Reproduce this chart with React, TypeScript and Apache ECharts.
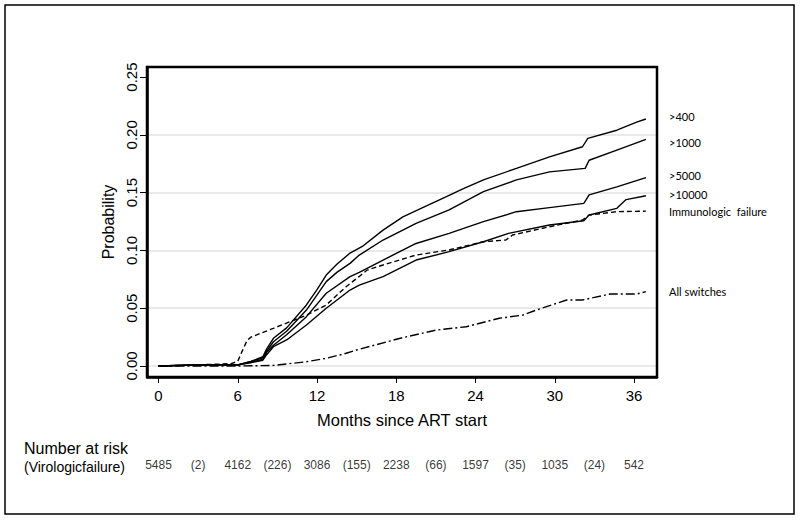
import React, { useEffect, useRef } from "react";
import * as echarts from "echarts";

// Axis ticks
const xTicks = [0, 6, 12, 18, 24, 30, 36];
const yTicks = [0, 0.05, 0.1, 0.15, 0.2, 0.25];
const gridValues = [0, 0.05, 0.1, 0.15, 0.2];

// Cumulative probability curves [month, probability]
const vl400: [number, number][] = [
  [0, 0], [3, 0.001], [6, 0.001], [7, 0.004], [7.9, 0.008], [8.2, 0.015], [8.7, 0.024], [9.7, 0.033],
  [11.2, 0.0528], [12.0, 0.066], [12.7, 0.0787], [13.5, 0.088], [14.5, 0.0977], [15.5, 0.104], [17, 0.1176],
  [18.5, 0.129], [20, 0.137], [21.8, 0.1465], [23, 0.153], [24.6, 0.161], [27.1, 0.171], [29.6, 0.181],
  [32.1, 0.1897], [32.5, 0.197], [34.7, 0.204], [36.2, 0.211], [36.9, 0.2137],
];
const vl1000: [number, number][] = [
  [0, 0], [3, 0.001], [6, 0.001], [7, 0.004], [7.9, 0.007], [8.2, 0.013], [8.7, 0.021], [9.7, 0.03],
  [11.2, 0.0484], [12.7, 0.073], [13.5, 0.081], [14.5, 0.0888], [15.2, 0.096], [17, 0.109], [19.5, 0.1234],
  [22, 0.135], [24.6, 0.1508], [27.1, 0.161], [29.6, 0.168], [32.3, 0.171], [32.6, 0.178], [34.7, 0.1868],
  [36.9, 0.196],
];
const vl5000: [number, number][] = [
  [0, 0], [3, 0.001], [6, 0.001], [7, 0.003], [7.9, 0.006], [8.2, 0.012], [8.7, 0.018], [9.7, 0.027],
  [11.2, 0.0427], [12.7, 0.0629], [14.5, 0.0773], [15.2, 0.081], [17, 0.0917], [19.5, 0.106], [22, 0.1148],
  [24.6, 0.1249], [27.1, 0.1335], [29.6, 0.137], [32.2, 0.1407], [32.6, 0.148], [34.7, 0.155], [36.9, 0.163],
];
const vl10000: [number, number][] = [
  [0, 0], [3, 0.001], [6, 0.001], [7, 0.003], [7.9, 0.005], [8.2, 0.01], [8.7, 0.0167], [9.7, 0.0225],
  [11.2, 0.0355], [12.7, 0.05], [14.5, 0.0657], [15.2, 0.07], [17, 0.0773], [19.5, 0.0917], [22, 0.0989],
  [24.6, 0.1075], [26.5, 0.1148], [29.6, 0.122], [32.2, 0.1257], [32.6, 0.1306], [34.7, 0.1364], [35.4, 0.144],
  [36.9, 0.1473],
];
const immunologic: [number, number][] = [
  [0, 0], [2, 0.0005], [3, 0.001], [5.5, 0.002], [6.0, 0.004], [6.3, 0.012], [6.7, 0.022], [7, 0.025],
  [8.7, 0.0326], [11.2, 0.044], [12.7, 0.0528], [14.2, 0.0686], [15.2, 0.0775], [15.8, 0.083], [17, 0.0874],
  [19.5, 0.096], [22, 0.1004], [24.6, 0.1075], [26.3, 0.109], [26.8, 0.1133], [29.6, 0.1205], [32.1, 0.1263],
  [32.6, 0.1306], [34.7, 0.1335], [36.9, 0.134],
];
const allSwitches: [number, number][] = [
  [0, 0], [6, 0], [8.7, 0.0005], [11.2, 0.0037], [12.7, 0.0066], [14.2, 0.011], [15.2, 0.0145], [18.3, 0.024],
  [21, 0.031], [23.3, 0.034], [25.8, 0.0413], [27.6, 0.0441], [28.6, 0.0484], [30.9, 0.0571], [32.1, 0.0571],
  [34.2, 0.0623], [36.2, 0.0623], [36.9, 0.0643],
];

// Number at risk
const riskMonths = [0, 6, 12, 18, 24, 30, 36];
const riskCounts = [5485, 4162, 3086, 2238, 1597, 1035, 542];
const failMonths = [3, 9, 15, 21, 27, 33];
const failCounts = [2, 226, 155, 66, 35, 24];

const curveLabels = [
  { text: ">400", y: 116 },
  { text: ">1000", y: 142 },
  { text: ">5000", y: 175 },
  { text: ">10000", y: 194 },
  { text: "Immunologic  failure", y: 211 },
  { text: "All switches", y: 291 },
];

const FONT = "'Liberation Sans', Arial, sans-serif";

export default function App() {
  const ref = useRef<HTMLDivElement>(null);
  useEffect(() => {
    if (!ref.current) return;
    const chart = echarts.init(ref.current, undefined, { renderer: "svg" });
    const X_MIN = -0.871;
    const X_MAX = 37.74;
    const Y_MIN = -0.00952;
    const Y_MAX = 0.2587;

    const mkLine = (name: string, data: [number, number][], type: any) => ({
      type: "line",
      name,
      data,
      symbol: "none",
      showSymbol: false,
      clip: false,
      z: 3,
      lineStyle: { color: "#000", width: 1.4, type },
      emphasis: { disabled: true },
    });

    const riskData = [
      ...riskMonths.map((m, i) => ({ value: [m, 0.5], name: String(riskCounts[i]) })),
      ...failMonths.map((m, i) => ({ value: [m, 0.5], name: "(" + failCounts[i] + ")" })),
    ];

    chart.setOption({
      animation: false,
      backgroundColor: "#fff",
      grid: [
        { left: 147, top: 67, width: 510, height: 310, show: false },
        { left: 147, top: 455, width: 510, height: 20, show: false },
      ],
      xAxis: [
        {
          type: "value",
          gridIndex: 0,
          min: X_MIN,
          max: X_MAX,
          name: "Months since ART start",
          nameLocation: "middle",
          nameGap: 34,
          nameTextStyle: { fontSize: 16.5, fontFamily: FONT, color: "#000" },
          axisLine: { show: true, onZero: false, lineStyle: { color: "#000", width: 2.5 } },
          axisTick: { show: true, length: 6, customValues: xTicks, lineStyle: { color: "#000", width: 1 } },
          axisLabel: { customValues: xTicks, fontSize: 15, fontFamily: FONT, color: "#000", margin: 11 },
          splitLine: { show: false },
        },
        { type: "value", gridIndex: 1, min: X_MIN, max: X_MAX, show: false },
      ],
      yAxis: [
        {
          type: "value",
          gridIndex: 0,
          min: Y_MIN,
          max: Y_MAX,
          name: "Probability",
          nameLocation: "middle",
          nameGap: 31,
          nameRotate: 90,
          nameTextStyle: { fontSize: 16, fontFamily: FONT, color: "#000" },
          axisLine: { show: true, onZero: false, lineStyle: { color: "#000", width: 2.5 } },
          axisTick: { show: true, length: 7, customValues: yTicks, lineStyle: { color: "#000", width: 1 } },
          axisLabel: {
            customValues: yTicks,
            rotate: 90,
            fontSize: 15,
            fontFamily: FONT,
            color: "#000",
            margin: 8,
            formatter: (v: number) => v.toFixed(2),
          },
          splitLine: { show: false },
        },
        { type: "value", gridIndex: 1, min: 0, max: 1, show: false },
        {
          type: "value",
          gridIndex: 0,
          min: Y_MIN,
          max: Y_MAX,
          position: "left",
          axisLine: { show: false },
          axisLabel: { show: false },
          axisTick: { show: false, customValues: gridValues },
          splitLine: { show: true, lineStyle: { color: "#e2e2e2", width: 1.5 } },
        },
      ],
      series: [
        mkLine(">400", vl400, "solid"),
        mkLine(">1000", vl1000, "solid"),
        mkLine(">5000", vl5000, "solid"),
        mkLine(">10000", vl10000, "solid"),
        mkLine("Immunologic failure", immunologic, [5, 3]),
        mkLine("All switches", allSwitches, [9, 3, 2, 3]),
        {
          type: "scatter",
          xAxisIndex: 1,
          yAxisIndex: 1,
          symbolSize: 0,
          data: riskData,
          emphasis: { disabled: true },
          label: {
            show: true,
            position: "inside",
            formatter: "{b}",
            fontFamily: "'Liberation Sans Narrow', 'Liberation Sans', Arial, sans-serif",
            fontSize: 12,
            color: "#000",
          },
        },
      ],
      graphic: [
        {
          type: "rect",
          shape: { x: 5, y: 5, width: 789, height: 509 },
          style: { fill: "none", stroke: "#000", lineWidth: 1.5 },
        },
        {
          type: "polyline",
          z: 1000,
          shape: { points: [[147, 377], [147, 67], [657, 67], [657, 377], [147, 377]] },
          style: { fill: "none", stroke: "#000", lineWidth: 2.5 },
        },
        ...curveLabels.map((l) => ({
          type: "text",
          x: 669,
          y: l.y,
          style: { text: l.text, fill: "#000", fontSize: 11, fontFamily: "Lato, 'Open Sans', sans-serif", verticalAlign: "middle" },
        })),
        {
          type: "text",
          x: 24,
          y: 448,
          style: { text: "Number at risk", fill: "#000", fontSize: 16, fontFamily: FONT, verticalAlign: "middle" },
        },
        {
          type: "text",
          x: 24,
          y: 467,
          style: { text: "(Virologicfailure)", fill: "#000", fontSize: 14, fontFamily: FONT, verticalAlign: "middle" },
        },
      ],
    });
    return () => chart.dispose();
  }, []);
  return <div ref={ref} style={{ position: "fixed", left: 0, top: 0, width: 800, height: 520 }} />;
}
